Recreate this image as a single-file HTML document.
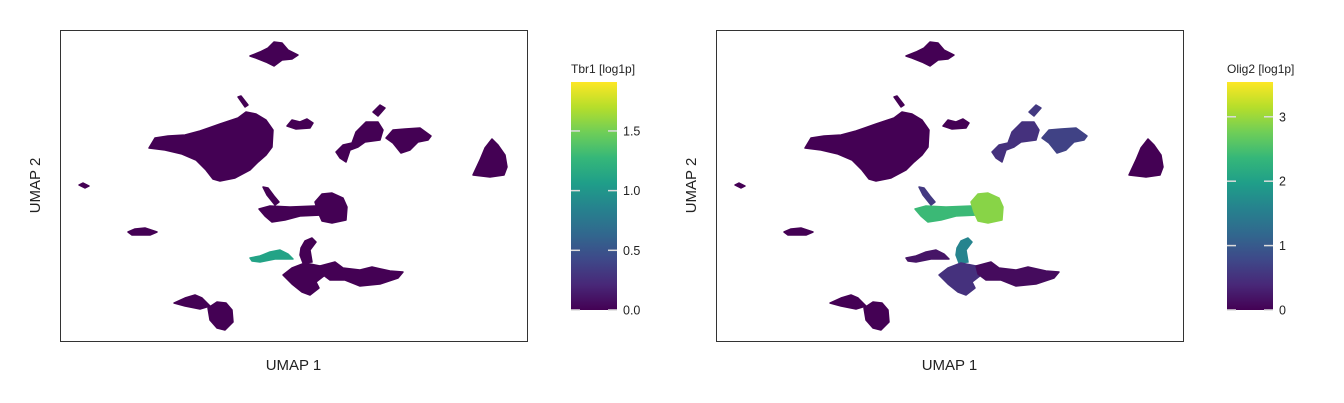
<!DOCTYPE html>
<html><head><meta charset="utf-8"><style>
body{margin:0;background:#fff;}
svg{display:block;font-family:"Liberation Sans",sans-serif;}
</style></head><body>
<svg id="chart" width="1344" height="403" viewBox="0 0 1344 403" xmlns="http://www.w3.org/2000/svg"></svg>
<script>
// cluster names and outlines (UMAP coords, in plot units)
const clusterNames=["top","big","stem1","small4","cl5","cl5stem","cl6","cl7","dot8","cl9stem","cl9bar","cl9blob","bar10","line11","stem12","blob12","arm12","bl13a","bl13b"];
const clusterShapes=[
[[190,26],[200,22],[208,18],[214,12],[222,13],[228,20],[238,25],[232,29],[222,30],[214,36],[206,32],[196,28]],
[[89,118],[95,108],[108,106],[125,105],[140,101],[160,94],[178,88],[186,82],[196,84],[206,90],[213,100],[212,117],[206,125],[198,132],[190,140],[175,148],[160,151],[153,149],[146,140],[136,130],[122,124],[105,120]],
[[178,67],[181,66],[188,75],[185,77]],
[[227,96],[232,90],[240,92],[247,89],[253,93],[250,98],[236,99]],
[[276,122],[283,115],[292,113],[296,102],[306,92],[318,92],[323,100],[320,110],[305,112],[298,117],[290,120],[286,132],[280,128]],
[[313,82],[320,75],[325,78],[318,86]],
[[326,108],[333,100],[345,99],[360,98],[371,106],[368,110],[358,112],[350,120],[341,123],[333,113]],
[[413,145],[420,130],[425,118],[432,109],[438,115],[445,125],[447,137],[444,145],[430,147]],
[[19,155],[23,153],[29,156],[25,158]],
[[203,157],[208,158],[214,166],[219,172],[215,175],[207,165]],
[[199,179],[210,176],[230,177],[255,176],[265,178],[262,185],[240,186],[225,190],[212,192],[205,186]],
[[255,172],[262,164],[272,163],[283,168],[287,177],[286,190],[272,193],[262,191],[258,182]],
[[68,202],[75,199],[85,198],[97,202],[90,205],[72,205]],
[[190,228],[200,226],[210,222],[220,220],[228,224],[233,229],[215,229],[200,232],[192,231]],
[[241,218],[245,211],[252,208],[256,212],[250,220],[252,232],[243,233],[240,225]],
[[223,245],[232,238],[245,233],[260,236],[265,245],[256,252],[259,258],[250,265],[242,262],[232,254]],
[[260,236],[275,232],[283,238],[300,240],[312,237],[330,241],[343,242],[338,248],[320,254],[300,256],[285,250],[270,250],[262,244]],
[[114,273],[125,268],[135,265],[142,268],[150,276],[140,279],[125,276]],
[[148,278],[157,272],[166,273],[172,280],[173,292],[165,300],[157,298],[150,290]]
];
const tbr1Values=[0,0,0,0,0,0,0,0,0,0,0,0,0,1.1,0,0,0,0,0];
const olig2Values=[0,0,0,0,0.5,0.6,0.7,0,0,0.6,2.4,2.9,0,0.2,1.6,0.5,0.1,0,0];
const tbr1Ticks=[0,0.5,1,1.5];
const tbr1TickLabels=["0.0","0.5","1.0","1.5"];
const olig2Ticks=[0,1,2,3];
const olig2TickLabels=["0","1","2","3"];
const tbr1Max=1.91, olig2Max=3.54;

const NS="http://www.w3.org/2000/svg";
const svg=document.getElementById("chart");
const vir=["#440154","#482878","#3e4989","#31688e","#26828e","#1f9e89","#35b779","#6ece58","#b5de2b","#fde725"];
function hex2rgb(h){return [1,3,5].map(i=>parseInt(h.substr(i,2),16));}
function viridis(t){t=Math.max(0,Math.min(1,t));const p=t*(vir.length-1);const i=Math.min(Math.floor(p),vir.length-2);const f=p-i;const a=hex2rgb(vir[i]),b=hex2rgb(vir[i+1]);return "rgb("+a.map((v,k)=>Math.round(v+(b[k]-v)*f)).join(",")+")";}
function mk(tag,attrs,parent){const e=document.createElementNS(NS,tag);for(const k in attrs)e.setAttribute(k,attrs[k]);(parent||svg).appendChild(e);return e;}

const defs=mk("defs",{});
const grad=mk("linearGradient",{id:"vg",x1:0,y1:1,x2:0,y2:0},defs);
vir.forEach((c,i)=>{mk("stop",{offset:(i/(vir.length-1)),"stop-color":c},grad);});

function panel(x0,values,maxV,ticks,tickLabels,title,barX){
  const y0=30,w=467,h=311;
  const sx=v=>x0+v, sy=v=>y0+v;
  const g=mk("g",{});
  
  
  clusterShapes.forEach((pts,i)=>{
    const p=mk("polygon",{points:pts.map(q=>sx(q[0])+","+sy(q[1])).join(" "),fill:viridis(values[i]/maxV),stroke:viridis(values[i]/maxV),"stroke-width":1.5,"stroke-linejoin":"round"},g);
    
    
  });
  const r=mk("rect",{x:x0+0.5,y:y0+0.5,width:w,height:h,fill:"none",stroke:"#333","stroke-width":1},g);
  
  
  const xt=mk("text",{x:x0+w/2,y:370,"text-anchor":"middle","font-size":15,fill:"#222"},g);
  xt.textContent="UMAP 1";
  
  
  const yt=mk("text",{x:0,y:0,transform:"translate("+(x0-20)+","+(y0+h/2)+") rotate(-90)","text-anchor":"middle","font-size":15,fill:"#222"},g);
  yt.textContent="UMAP 2";
  
  
  // colorbar
  const cbTop=82,cbBot=310,cbW=46;
  const cy=v=>cbBot-(v/maxV)*(cbBot-cbTop);
  const lt=mk("text",{x:barX,y:73,"font-size":12,fill:"#222"},g);
  lt.textContent=title;
  
  
  const cb=mk("rect",{x:barX,y:cbTop,width:cbW,height:cbBot-cbTop,fill:"url(#vg)"},g);
  
  
  ticks.forEach((t,i)=>{
    const y=cy(t);
    mk("line",{x1:barX,x2:barX+9,y1:y,y2:y,stroke:"#ddd","stroke-width":1.5},g);
    mk("line",{x1:barX+cbW-9,x2:barX+cbW,y1:y,y2:y,stroke:"#ddd","stroke-width":1.5},g);
    const tl=mk("text",{x:barX+cbW+6,y:y+4.5,"font-size":12.5,fill:"#222"},g);
    tl.textContent=tickLabels[i];
    
    
  });
}
panel(60,tbr1Values,tbr1Max,tbr1Ticks,tbr1TickLabels,"Tbr1 [log1p]",571);
panel(716,olig2Values,olig2Max,olig2Ticks,olig2TickLabels,"Olig2 [log1p]",1227);
</script>
</body></html>
